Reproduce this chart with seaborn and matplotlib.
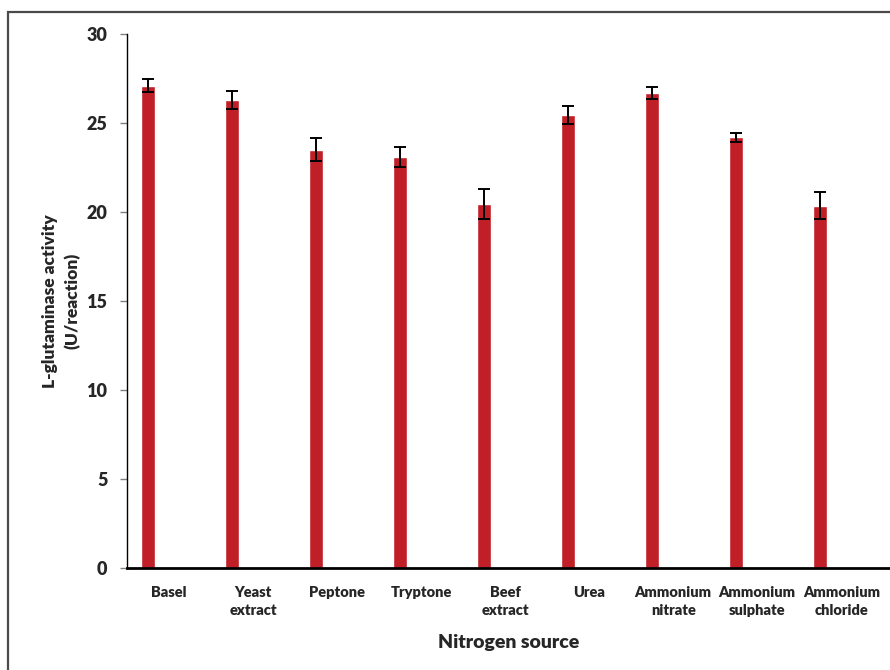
import matplotlib
matplotlib.use("Agg")
import matplotlib.pyplot as plt
from matplotlib.patches import Rectangle
import numpy as np
import pandas as pd
import seaborn as sns

# Nitrogen sources tested and the measured L-glutaminase activity (mean ± SD)
sources = ["Basel", "Yeast\nextract", "Peptone", "Tryptone", "Beef\nextract",
           "Urea", "Ammonium\nnitrate", "Ammonium\nsulphate", "Ammonium\nchloride"]
activity = [27.1, 26.3, 23.5, 23.1, 20.45, 25.45, 26.7, 24.2, 20.35]
sd = [0.35, 0.5, 0.65, 0.55, 0.85, 0.5, 0.35, 0.25, 0.75]

y_ticks = [0, 5, 10, 15, 20, 25, 30]

df = pd.DataFrame({"source": sources, "activity": activity, "group": "mean"})

sns.set_theme(style="white")
plt.rcParams["font.family"] = ["Lato", "DejaVu Sans"]

text_color = "#262626"
bar_color = "#C11F27"
heavy = 800

fig = plt.figure(figsize=(8.9, 6.7), dpi=100)
ax = fig.add_axes([127 / 890, 1 - 568 / 670, 1 - 127 / 890, 534 / 670])

# A second (empty) hue slot pushes each bar to the left half of its category
sns.barplot(data=df, x="source", y="activity", hue="group",
            hue_order=["mean", "blank"], order=sources,
            palette={"mean": bar_color, "blank": bar_color},
            width=1.0, gap=0.667, dodge=True, errorbar=None,
            legend=False, ax=ax, saturation=1)

bars = sorted(ax.patches, key=lambda p: p.get_x())
xs = [p.get_x() + p.get_width() / 2 for p in bars]
ax.errorbar(xs, activity, yerr=sd, fmt="none", ecolor="black",
            elinewidth=1.4, capsize=4.5, capthick=1.4, zorder=5)

ax.set_ylim(0, 30)
ax.set_xlim(-0.5, 8.58)
ax.set_yticks(y_ticks)
ax.set_yticklabels([str(t) for t in y_ticks], fontsize=13, fontweight=heavy,
                   color=text_color)
ax.set_xticks(range(len(sources)))
ax.set_xticklabels(sources, fontsize=10.5, fontweight=heavy, color=text_color,
                   linespacing=1.45)
ax.tick_params(axis="y", direction="out", length=5, width=1, color="#808080",
               pad=9, left=True)
ax.tick_params(axis="x", length=0, pad=13)

for side in ("top", "right"):
    ax.spines[side].set_visible(False)
ax.spines["left"].set_color("black")
ax.spines["left"].set_linewidth(1.0)
ax.spines["bottom"].set_color("black")
ax.spines["bottom"].set_linewidth(2.0)

ax.set_xlabel("Nitrogen source", fontsize=14, fontweight=heavy,
              color=text_color, labelpad=12)
ax.set_ylabel("L-glutaminase activity\n(U/reaction)", fontsize=12.5,
              fontweight=heavy, color=text_color, labelpad=4,
              linespacing=1.5)

# Outer frame around the chart area
fig.patches.append(Rectangle((8 / 890, -0.2), 1.2, 1 - 12 / 670 + 0.2,
                             transform=fig.transFigure, fill=False,
                             edgecolor="#4a4a4a", linewidth=1.6, zorder=0))

fig.savefig("out.png", dpi=100)
